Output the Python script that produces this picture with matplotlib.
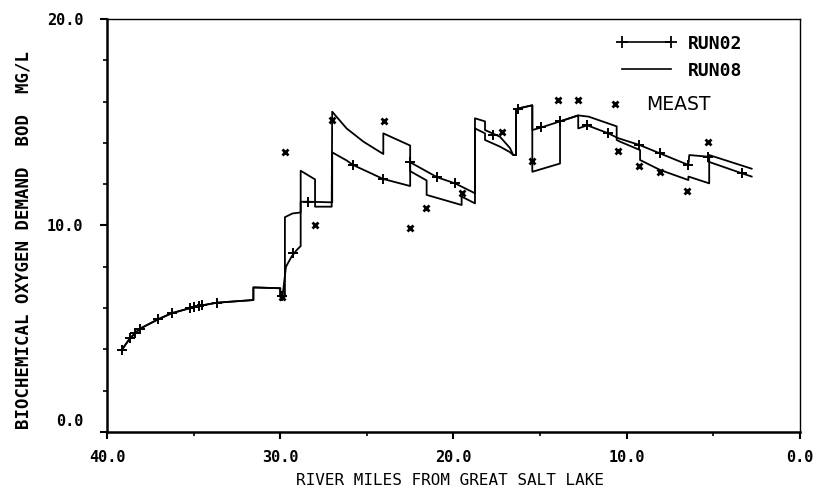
import numpy as np
import matplotlib
matplotlib.use("Agg")
import matplotlib.pyplot as plt
from matplotlib.lines import Line2D
from matplotlib.ticker import MultipleLocator, FixedLocator
from matplotlib.transforms import ScaledTranslation

# river mile / BOD (mg/L)
run02_x = [39.15, 38.67, 38.1, 37.04, 36.27, 35.2, 34.7, 33.67, 31.55, 31.55, 30.0, 30.0,
           29.87, 29.67, 29.34, 29.05, 28.82, 28.82, 28.37, 27.0, 27.0, 26.17, 25.8, 24.05,
           22.5, 22.5, 20.93, 19.91, 18.76, 18.76, 18.18, 18.18, 17.32, 16.74, 16.55,
           16.39, 16.39, 15.45, 15.45, 14.92, 13.85, 12.8, 12.8, 12.28, 11.06, 10.47,
           9.27, 8.08, 6.44, 6.39, 5.29, 5.29, 3.37, 2.79]
run02_y = [3.97, 4.54, 5.0, 5.46, 5.75, 6.0, 6.1, 6.26, 6.39, 7.0, 6.96, 6.55,
           6.55, 8.0, 8.5, 8.81, 9.0, 11.15, 11.15, 11.12, 13.54, 13.15, 12.93, 12.25,
           11.91, 13.06, 12.33, 12.04, 11.56, 15.19, 15.04, 14.62, 14.3, 13.75, 13.41,
           13.41, 15.64, 15.82, 14.62, 14.75, 15.04, 15.33, 14.7, 14.85, 14.46, 14.22,
           13.9, 13.49, 12.93, 13.41, 13.33, 13.09, 12.53, 12.37]

# printed output nodes of RUN02 (the + symbols)
run02_mark_x = [39.15, 38.67, 38.4, 38.1, 37.04, 36.27, 35.2, 35.0, 34.7, 34.5, 33.67,
                29.9, 29.25, 28.37, 25.8, 24.05, 22.5, 20.93, 19.91, 17.7, 16.25,
                14.92, 13.85, 12.28, 11.06, 9.27, 8.08, 6.44, 5.29, 3.37]
run02_mark_y = [3.97, 4.54, 4.8, 5.0, 5.46, 5.75, 6.0, 6.03, 6.1, 6.13, 6.26,
                6.6, 8.65, 11.15, 12.93, 12.25, 13.06, 12.33, 12.04, 14.38, 15.64,
                14.75, 15.04, 14.85, 14.46, 13.9, 13.49, 12.93, 13.33, 12.53]

run08_x = [39.15, 38.67, 38.1, 37.04, 36.27, 35.2, 34.7, 33.67, 31.55, 31.55, 30.0, 30.0,
           29.73, 29.73, 29.3, 28.82, 28.82, 27.99, 27.99, 27.03, 27.0, 26.17, 25.2,
           24.05, 24.05, 22.5, 22.5, 21.55, 21.55, 19.53, 19.53, 18.76, 18.76, 18.18,
           18.18, 17.32, 16.74, 16.55, 16.39, 16.39, 15.45, 15.45, 13.85, 13.85, 12.8,
           12.2, 10.58, 10.58, 10.39, 9.23, 9.23, 8.08, 6.44, 6.44, 5.24, 5.24, 2.79]
run08_y = [3.97, 4.54, 5.0, 5.46, 5.75, 6.0, 6.1, 6.26, 6.39, 7.0, 6.96, 6.55,
           6.55, 10.4, 10.58, 10.63, 12.65, 12.23, 10.91, 10.91, 15.51, 14.7, 14.06,
           13.46, 14.46, 13.87, 12.63, 12.18, 11.48, 10.99, 11.4, 11.07, 14.7, 14.46,
           14.14, 13.82, 13.55, 13.41, 13.41, 15.64, 15.82, 12.6, 13.0, 15.04, 15.33,
           15.27, 14.8, 14.14, 14.06, 13.65, 13.17, 12.69, 12.2, 12.37, 12.04, 13.41, 12.75]

meast_x = [29.87, 29.73, 27.99, 26.99, 24.01, 22.51, 21.6, 19.5, 17.22, 15.49,
           13.95, 12.8, 10.49, 9.27, 8.08, 6.5, 5.29]
meast_y = [6.55, 13.57, 10.02, 15.11, 15.08, 9.86, 10.83, 11.56, 14.54, 13.1,
           16.08, 16.08, 13.6, 12.9, 12.61, 11.69, 14.06]

x_ticks = [40, 30, 20, 10, 0]
y_ticks = [0, 10, 20]

fig = plt.figure(figsize=(8.21, 4.9), dpi=100)
ax = fig.add_axes([0.1303, 0.1184, 0.8441, 0.8429])

ax.plot(run02_x, run02_y, color='black', lw=1.3, zorder=3)
ax.plot(run02_mark_x, run02_mark_y, ls='none', marker='+', ms=7, mew=1.4,
        color='black', zorder=4)
ax.plot(run08_x, run08_y, color='black', lw=1.3, zorder=3)
ax.plot(meast_x, meast_y, ls='none', marker='x', ms=5, mew=2.0,
        color='black', zorder=4)

ax.set_xlim(40, 0)
ax.set_ylim(0, 20)
ax.xaxis.set_major_locator(FixedLocator(x_ticks))
ax.yaxis.set_major_locator(FixedLocator(y_ticks))
ax.xaxis.set_minor_locator(MultipleLocator(5))
ax.yaxis.set_minor_locator(MultipleLocator(2))
ax.set_xticklabels([f"{v:.1f}" for v in x_ticks])
ax.set_yticklabels([f"{v:.1f}" for v in y_ticks])

tick_font = dict(family='DejaVu Sans Mono', weight='bold', size=11)
for lab in ax.get_xticklabels() + ax.get_yticklabels():
    lab.set_fontproperties(matplotlib.font_manager.FontProperties(**tick_font))
ax.tick_params(which='major', direction='out', length=5, width=1.5)
ax.tick_params(which='minor', direction='out', length=3, width=1.2)
ax.tick_params(axis='y', which='major', pad=12)
ax.tick_params(axis='x', which='major', pad=8)

# lift the bottom y label clear of the 40.0 label
lab0 = ax.get_yticklabels()[0]
lab0.set_transform(lab0.get_transform() + ScaledTranslation(0, 12 / 100, fig.dpi_scale_trans))

for side in ['left', 'bottom']:
    ax.spines[side].set_linewidth(1.8)
for side in ['top', 'right']:
    ax.spines[side].set_linewidth(1.0)

ax.set_ylabel('BIOCHEMICAL OXYGEN DEMAND  BOD  MG/L', family='DejaVu Sans Mono',
              weight='bold', size=12.5)
ax.yaxis.set_label_coords(-0.108, 0.465)
ax.set_xlabel('RIVER MILES FROM GREAT SALT LAKE', family='DejaVu Sans Mono', size=11.5)
ax.xaxis.set_label_coords(0.495, -0.1)

h1 = Line2D([], [], color='black', lw=1.2, marker='+', ms=9, mew=1.3)
h2 = Line2D([], [], color='black', lw=1.2)
leg1 = ax.legend([h1, h2], ['RUN02', 'RUN08'], loc='upper left',
                 bbox_to_anchor=(0.736, 0.962), frameon=False, numpoints=2,
                 handlelength=3.3, handletextpad=0.6, labelspacing=0.5,
                 borderpad=0, borderaxespad=0,
                 prop=dict(family='DejaVu Sans Mono', weight='bold', size=13))
ax.add_artist(leg1)
h3 = Line2D([], [], ls='none', color='black', marker='x', ms=5, mew=2.0)
ax.legend([h3], ['MEAST'], loc='upper left', bbox_to_anchor=(0.727, 0.815),
          frameon=False, numpoints=1, handlelength=0.5, handletextpad=1.37,
          borderpad=0, borderaxespad=0,
          prop=dict(family='DejaVu Sans', size=13.5))

fig.savefig('out.png', dpi=100)
